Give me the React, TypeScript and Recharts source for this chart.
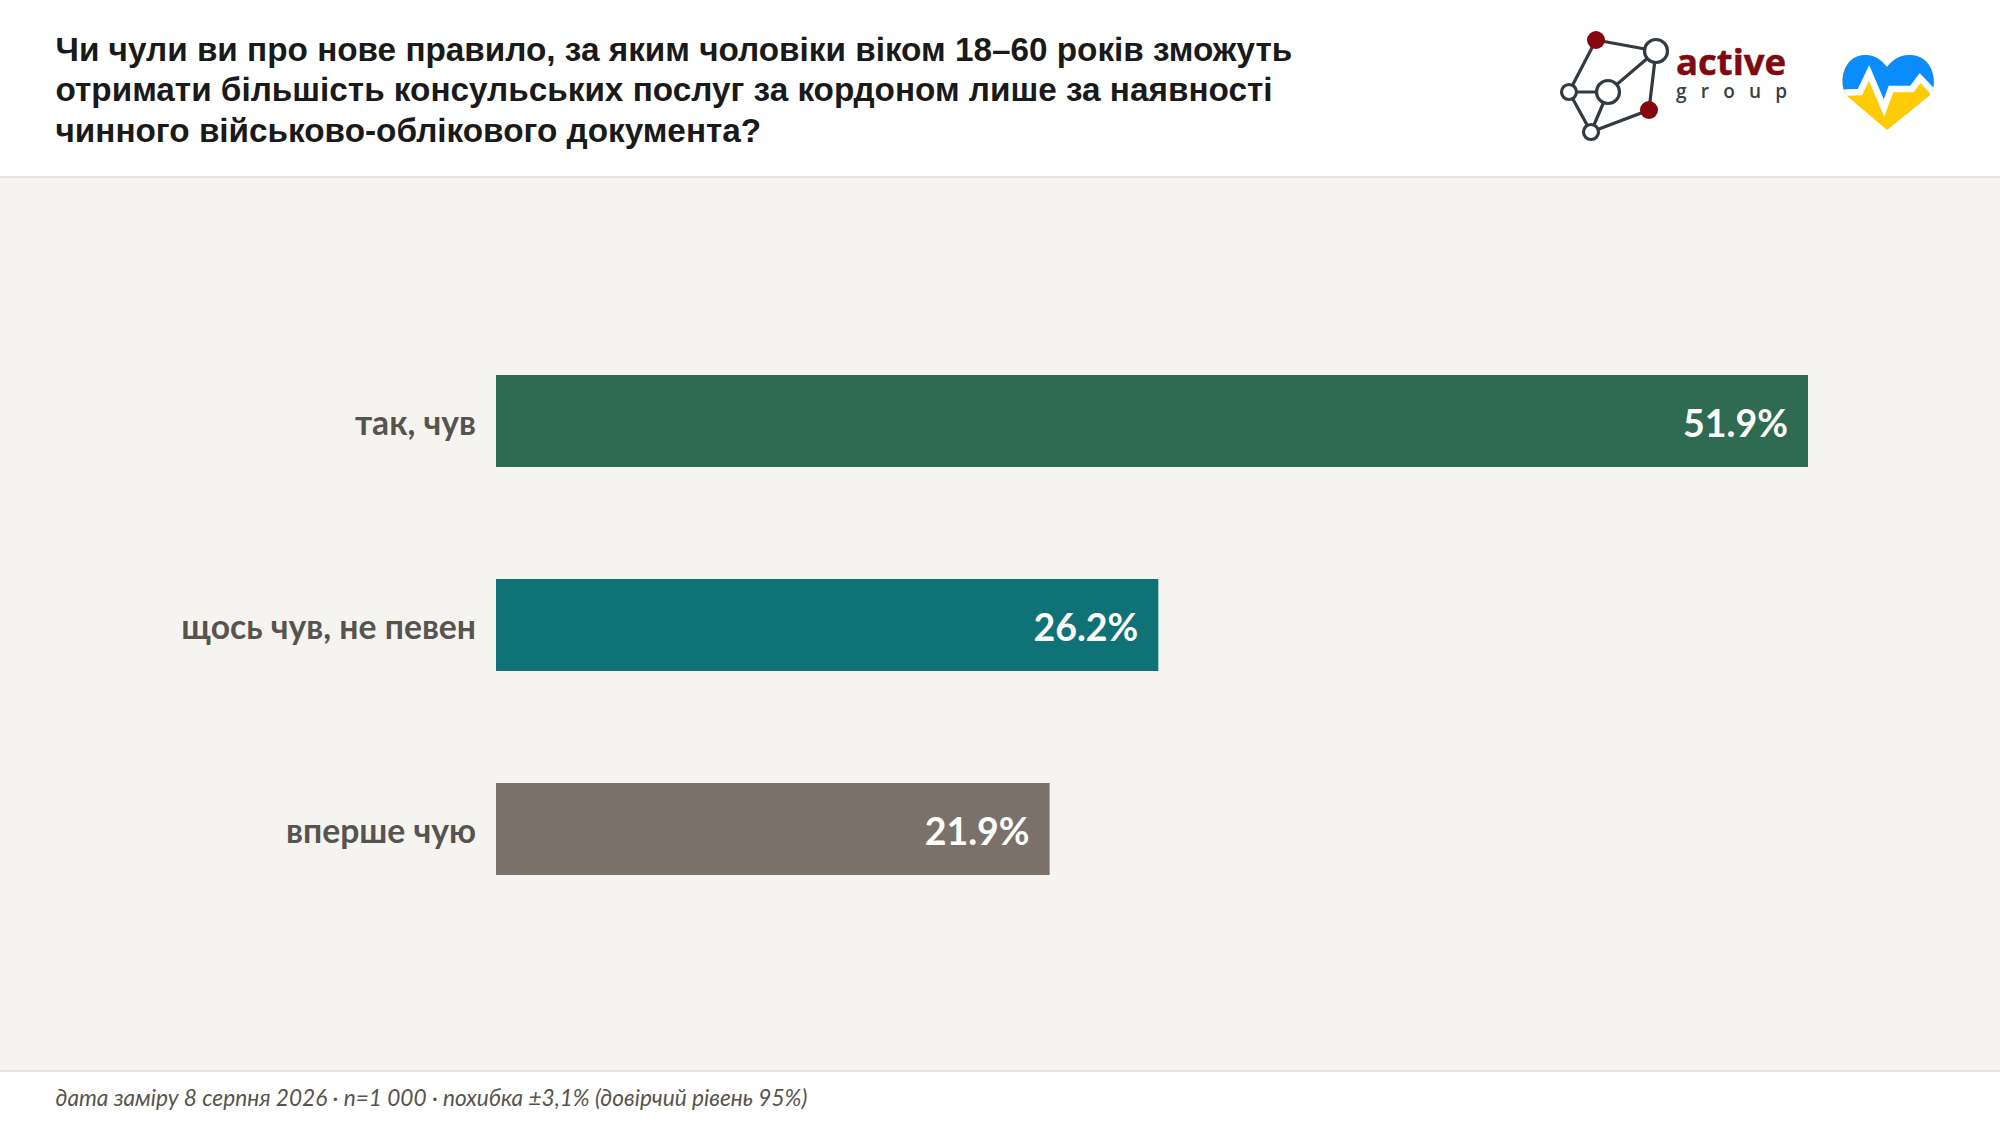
import { BarChart, Bar, XAxis, YAxis, Cell, LabelList } from "recharts";

const categories = ["так, чув", "щось чув, не певен", "вперше чую"];
const shares = [51.9, 26.2, 21.9];
const barColors = ["#2f6b52", "#0e7277", "#7a716a"];
const titleLines = [
  "Чи чули ви про нове правило, за яким чоловіки віком 18–60 років зможуть",
  "отримати більшість консульських послуг за кордоном лише за наявності",
  "чинного військово-облікового документа?",
];
const footnote = "дата заміру 8 серпня 2026 · n=1 000 · похибка ±3,1% (довірчий рівень 95%)";

const chartData = categories.map((name, i) => ({ name, share: shares[i] }));

function ActiveLogo() {
  const ink = "#333a40";
  return (
    <svg width={260} height={130} viewBox="1550 15 260 130" style={{ position: "absolute", left: 1550, top: 15 }}>
      <g stroke={ink} strokeWidth={3.2} fill="none">
        <path d="M1596 40 L1656 51 L1649 110 L1591 132 L1569 92 Z" />
        <path d="M1569 92 L1608 92 L1656 51 M1608 92 L1591 132" />
      </g>
      <circle cx={1596} cy={40} r={9} fill="#85070f" />
      <circle cx={1649} cy={110} r={9} fill="#85070f" />
      <g stroke={ink} strokeWidth={3.2} fill="#fff">
        <circle cx={1656} cy={51} r={11.5} />
        <circle cx={1608} cy={92} r={11.5} />
        <circle cx={1569} cy={92} r={7.5} />
        <circle cx={1591} cy={132} r={7.5} />
      </g>
      <text x={1676} y={75} fontFamily="Open Sans" fontWeight={700} fontSize={36.5} stroke="#7f0a12" strokeWidth={0.5} fill="#7f0a12">active</text>
      <text x={1676} y={98} fontFamily="Open Sans" fontWeight={600} fontSize={19} letterSpacing={14.2} fill="#3a3f45">group</text>
    </svg>
  );
}

function HeartLogo() {
  const heart = "M1887 130 L1847 96 C1838 86 1842 55 1865 55 C1876 55 1882 61 1887 67 C1892 61 1898 55 1910 55 C1934 55 1939 86 1929 96 Z";
  const pulse = "L1860 92 L1869 73 L1884 108 L1891 89 L1912 89 L1920 78 L1934 93";
  return (
    <svg width={110} height={90} viewBox="1835 47 110 90" style={{ position: "absolute", left: 1835, top: 47 }}>
      <defs>
        <clipPath id="heart-clip"><path d={heart} /></clipPath>
      </defs>
      <g clipPath="url(#heart-clip)">
        <rect x={1835} y={47} width={110} height={90} fill="#ffcb05" />
        <path d={`M1838 93 ${pulse} L1940 93 L1940 47 L1838 47 Z`} fill="#0a8cff" />
        <path d={`M1838 93 ${pulse} L1940 99`} stroke="#fff" strokeWidth={6.5} fill="none" />
      </g>
    </svg>
  );
}

export default function App() {
  return (
    <div style={{ position: "fixed", inset: 0, width: 2000, height: 1126, background: "#fff", overflow: "hidden" }}>
      <div style={{ position: "absolute", left: 55.5, top: 30, fontFamily: "Liberation Sans", fontWeight: 700, fontSize: 33.3, lineHeight: "40.4px", color: "#1a1a1a", whiteSpace: "nowrap" }}>
        {titleLines.map((line) => <div key={line}>{line}</div>)}
      </div>
      <ActiveLogo />
      <HeartLogo />
      <div style={{ position: "absolute", left: 0, top: 176, width: 2000, height: 896, boxSizing: "border-box", background: "#f5f4f0", borderTop: "2px solid #e6e5e1", borderBottom: "2px solid #e6e5e1" }} />
      <div style={{ position: "absolute", left: 0, top: 319 }}>
        <BarChart width={2000} height={612} data={chartData} layout="vertical" margin={{ top: 0, right: 192, bottom: 0, left: 0 }}>
          <XAxis type="number" domain={[0, 51.9]} hide />
          <YAxis type="category" dataKey="name" width={496} axisLine={false} tickLine={false} tickMargin={14} dy={2}
            tick={{ fontFamily: "Lato", fontWeight: 700, fontSize: 33.7, fill: "#575450" }} />
          <Bar dataKey="share" barSize={92} isAnimationActive={false}>
            {chartData.map((d, i) => <Cell key={d.name} fill={barColors[i]} />)}
            <LabelList dataKey="share" position="insideRight" offset={20} dy={3} formatter={(v: any) => v.toFixed(1) + "%"}
              style={{ fontFamily: "Lato", fontWeight: 700, fontSize: 37.5, fill: "#fff" }} />
          </Bar>
        </BarChart>
      </div>
      <div style={{ position: "absolute", left: 55.5, top: 1084, fontFamily: "Lato", fontStyle: "italic", fontSize: 22.65, color: "#575450", whiteSpace: "nowrap" }}>
        {footnote}
      </div>
    </div>
  );
}
